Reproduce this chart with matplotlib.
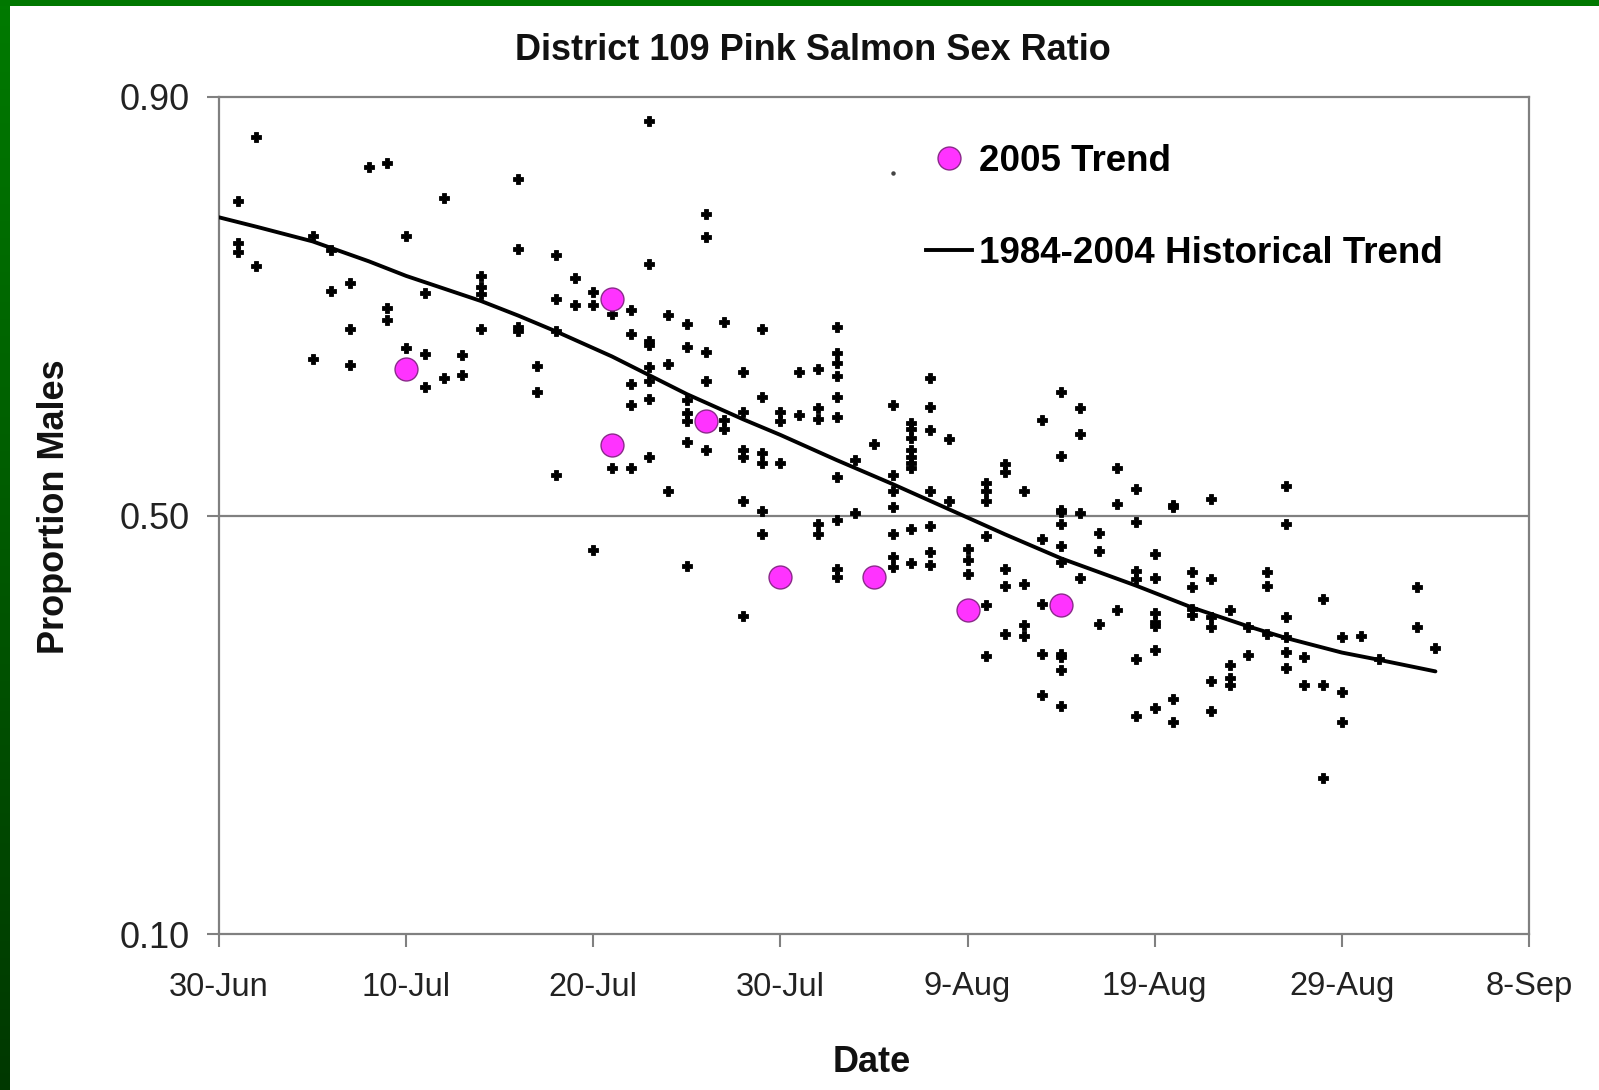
import numpy as np
import matplotlib.pyplot as plt
from matplotlib.lines import Line2D
from matplotlib.patches import Rectangle

plt.rcParams['font.family'] = ['Liberation Sans', 'DejaVu Sans']

# x axis: days after 30-Jun
tick_days = [0, 10, 20, 30, 40, 50, 60, 70]
tick_labels = ['30-Jun', '10-Jul', '20-Jul', '30-Jul', '9-Aug', '19-Aug', '29-Aug', '8-Sep']
y_ticks = [0.10, 0.50, 0.90]

# 1984-2004 samples, grouped by day
hist_days = [1, 2, 5, 6, 7, 8, 9, 10, 11, 12, 13, 14, 16, 17, 18, 19, 20, 21, 22, 23,
             24, 25, 26, 27, 28, 29, 30, 31, 32, 33, 34, 35, 36, 37, 38, 39, 40, 41, 42,
             43, 44, 45, 46, 47, 48, 49, 50, 51, 52, 53, 54, 55, 56, 57, 58, 59, 60, 61,
             62, 64, 65]
hist_props = [
    [0.801, 0.760, 0.752],
    [0.862, 0.738],
    [0.767, 0.650],
    [0.754, 0.715],
    [0.722, 0.678, 0.644],
    [0.833],
    [0.837, 0.698, 0.687],
    [0.767, 0.660],
    [0.713, 0.654, 0.623],
    [0.803, 0.631],
    [0.653, 0.634],
    [0.729, 0.718, 0.712, 0.678],
    [0.822, 0.755, 0.680, 0.676],
    [0.643, 0.618],
    [0.749, 0.707, 0.676, 0.539],
    [0.727, 0.701],
    [0.714, 0.701, 0.467],
    [0.693, 0.545],
    [0.696, 0.673, 0.626, 0.606, 0.545],
    [0.877, 0.740, 0.667, 0.663, 0.642, 0.629, 0.611, 0.556],
    [0.692, 0.645, 0.523],
    [0.683, 0.661, 0.610, 0.598, 0.590, 0.570, 0.452],
    [0.788, 0.766, 0.656, 0.629, 0.563],
    [0.685, 0.591, 0.583],
    [0.637, 0.599, 0.563, 0.556, 0.514, 0.404],
    [0.678, 0.613, 0.560, 0.550, 0.504, 0.482],
    [0.599, 0.590, 0.550],
    [0.637, 0.596],
    [0.640, 0.603, 0.592, 0.492, 0.482],
    [0.680, 0.655, 0.646, 0.633, 0.613, 0.594, 0.537, 0.496, 0.449, 0.441],
    [0.553, 0.502],
    [0.568],
    [0.606, 0.539, 0.523, 0.508, 0.482, 0.460, 0.451],
    [0.588, 0.583, 0.574, 0.563, 0.556, 0.550, 0.545, 0.487, 0.455],
    [0.631, 0.604, 0.582, 0.523, 0.490, 0.465, 0.453],
    [0.573, 0.514],
    [0.468, 0.457, 0.444],
    [0.531, 0.523, 0.514, 0.480, 0.414, 0.366],
    [0.549, 0.542, 0.449, 0.433, 0.387],
    [0.523, 0.435, 0.395, 0.385],
    [0.591, 0.478, 0.415, 0.368, 0.328],
    [0.618, 0.557, 0.505, 0.503, 0.492, 0.471, 0.456, 0.368, 0.365, 0.352, 0.318],
    [0.603, 0.578, 0.502, 0.440],
    [0.483, 0.466, 0.396],
    [0.545, 0.511, 0.410],
    [0.525, 0.494, 0.447, 0.439, 0.363, 0.308],
    [0.463, 0.440, 0.407, 0.398, 0.394, 0.371, 0.316],
    [0.510, 0.508, 0.325, 0.303],
    [0.446, 0.432, 0.411, 0.405],
    [0.516, 0.439, 0.403, 0.393, 0.342, 0.313],
    [0.410, 0.357, 0.345, 0.338],
    [0.393, 0.367],
    [0.446, 0.433, 0.387],
    [0.528, 0.492, 0.403, 0.384, 0.370, 0.354],
    [0.365, 0.338],
    [0.420, 0.338, 0.249],
    [0.384, 0.331, 0.303],
    [0.385],
    [0.363],
    [0.432, 0.393],
    [0.373],
]
faint_days = [36]
faint_props = [0.827]

# 2005 samples
days_2005 = [10, 21, 21, 26, 30, 35, 40, 45]
props_2005 = [0.640, 0.707, 0.567, 0.590, 0.441, 0.441, 0.410, 0.414]

# historical trend
trend_days = [0, 2, 5, 8, 10, 12, 14, 16, 18, 21, 23, 25, 28, 30, 33, 36, 38, 40,
              42, 45, 47, 49, 52, 55, 57, 60, 62, 65]
trend_props = [0.785, 0.776, 0.762, 0.743, 0.729, 0.717, 0.705, 0.691, 0.676, 0.652,
               0.634, 0.616, 0.592, 0.577, 0.553, 0.530, 0.514, 0.498, 0.482, 0.459,
               0.446, 0.433, 0.412, 0.394, 0.383, 0.369, 0.362, 0.351]

counts = [len(v) for v in hist_props]
hx = np.repeat(hist_days, counts)
hy = np.concatenate(hist_props)

W, H = 1599, 1090
fig = plt.figure(figsize=(W / 100, H / 100), dpi=100)

# green slide frame
gx = fig.add_axes([0, 0, 10 / W, 1])
grad = np.linspace(0, 1, 256).reshape(-1, 1)
top_c = np.array([0.0, 0.48, 0.0])
bot_c = np.array([0.0, 0.22, 0.0])
img = top_c[None, None, :] * (1 - grad[:, :, None]) + bot_c[None, None, :] * grad[:, :, None]
gx.imshow(img, aspect='auto')
gx.axis('off')
fig.add_artist(Rectangle((0, 1 - 6 / H), 1, 6 / H, transform=fig.transFigure,
                         color='#007800', lw=0))

ax = fig.add_axes([219 / W, 1 - 934 / H, (1529 - 219) / W, (934 - 97) / H])

grey = '#808080'
ax.axhline(0.5, color=grey, lw=1.6, zorder=1)
ax.plot(hx, hy, linestyle='none', marker='P', ms=6.5, color='black',
        markeredgecolor='black', mew=0.6, zorder=2)
ax.plot(faint_days, faint_props, linestyle='none', marker='o', ms=2.2, color='#444444', zorder=2)
ax.plot(trend_days, trend_props, color='black', lw=2.8, zorder=3,
        solid_joinstyle='round', solid_capstyle='round')
ax.plot(days_2005, props_2005, linestyle='none', marker='o', ms=16.5,
        markerfacecolor='#ff33ff', markeredgecolor='#8a2a8a', mew=1.0, zorder=4)

ax.set_xlim(0, 70)
ax.set_ylim(0.1, 0.9)
ax.set_xticks(tick_days)
ax.set_xticklabels(tick_labels)
ax.set_yticks(y_ticks)
ax.set_yticklabels(['%.2f' % v for v in y_ticks])
for s in ax.spines.values():
    s.set_color(grey)
    s.set_linewidth(1.6)
ax.tick_params(axis='x', length=9, width=1.5, color=grey, labelsize=23.5,
               labelcolor='#222222', pad=18)
ax.tick_params(axis='y', length=9, width=1.5, color=grey, labelsize=26,
               labelcolor='#222222', pad=12)

fig.text(813 / W, 1 - 51 / H, 'District 109 Pink Salmon Sex Ratio', ha='center',
         va='center', fontsize=26, fontweight='bold', color='#111111')
fig.text(872 / W, 1 - 1063 / H, 'Date', ha='center', va='center', fontsize=26,
         fontweight='bold', color='#111111')
fig.text(55 / W, 1 - 507 / H, 'Proportion Males', ha='center', va='center',
         rotation=90, fontsize=26, fontweight='bold', color='#111111')

handles = [
    Line2D([], [], linestyle='none', marker='o', ms=16.5, markerfacecolor='#ff33ff',
           markeredgecolor='#8a2a8a', mew=1.0),
    Line2D([], [], color='black', lw=2.8),
]
fig.legend(handles, ['2005 Trend', '1984-2004 Historical Trend'], loc='upper left',
           bbox_to_anchor=(926 / W, 1 - 144 / H), frameon=False, borderpad=0,
           borderaxespad=0, handlelength=1.25, handletextpad=0.2, labelspacing=1.55,
           prop={'weight': 'bold', 'size': 26.5})

fig.savefig('out.png', dpi=100)
